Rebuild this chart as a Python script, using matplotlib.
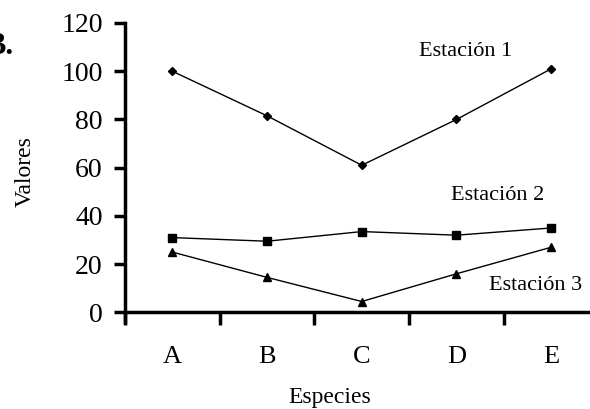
import matplotlib
matplotlib.use("Agg")
import matplotlib.pyplot as plt
import numpy as np

categories = ["A", "B", "C", "D", "E"]
estacion1 = [100, 81.5, 61, 80, 101]
estacion2 = [31, 29.5, 33.5, 32, 35]
estacion3 = [25, 14.5, 4.5, 16, 27]
yticks = [0, 20, 40, 60, 80, 100, 120]

plt.rcParams['font.family'] = ['Liberation Serif', 'DejaVu Serif']

fig = plt.figure(figsize=(5.9, 4.09), dpi=100)
ax = fig.add_axes([125/590, 1 - 322/409, 1 - 125/590, (322 - 23)/409])

x = np.arange(len(categories))
lw = 1.0
ax.plot(x, estacion1, color='black', lw=lw, marker='D', ms=4)
ax.plot(x, estacion2, color='black', lw=lw, marker='s', ms=5.5)
ax.plot(x, estacion3, color='black', lw=lw, marker='^', ms=6)

ax.set_xlim(-0.5, 4.41)
ax.set_ylim(-4, 120)

for s in ['top', 'right']:
    ax.spines[s].set_visible(False)
ax.spines['left'].set_linewidth(2.5)
ax.spines['bottom'].set_linewidth(2.5)
ax.spines['bottom'].set_position(('data', 0))

ax.set_yticks(yticks)
ax.set_yticklabels([str(v) for v in yticks], fontsize=20)
ax.tick_params(axis='y', direction='out', length=8, width=2.5, pad=8)

ax.set_xticks([-0.5, 0.5, 1.5, 2.5, 3.5])
ax.set_xticklabels([])
ax.tick_params(axis='x', which='major', direction='out', length=9, width=2.5)
ax.set_xticks(x, minor=True)
ax.set_xticklabels(categories, minor=True, fontsize=19)
ax.tick_params(axis='x', which='minor', length=0, pad=24)

ax.text(3.1, 108, "Estación 1", fontsize=16, ha='center', va='center')
ax.text(3.43, 48.5, "Estación 2", fontsize=16, ha='center', va='center')
ax.text(3.83, 11.3, "Estación 3", fontsize=16, ha='center', va='center')

fig.text(25/590, 1 - 172/409, "Valores", rotation=90, fontsize=17, ha='center', va='center')
fig.text(330/590, 1 - 398/409, "Especies", fontsize=17, ha='center', va='center')
fig.text(14/590, 1 - 47/409, "B.", fontsize=22, fontweight='bold', ha='right', va='center')

fig.savefig("out.png", dpi=100)
